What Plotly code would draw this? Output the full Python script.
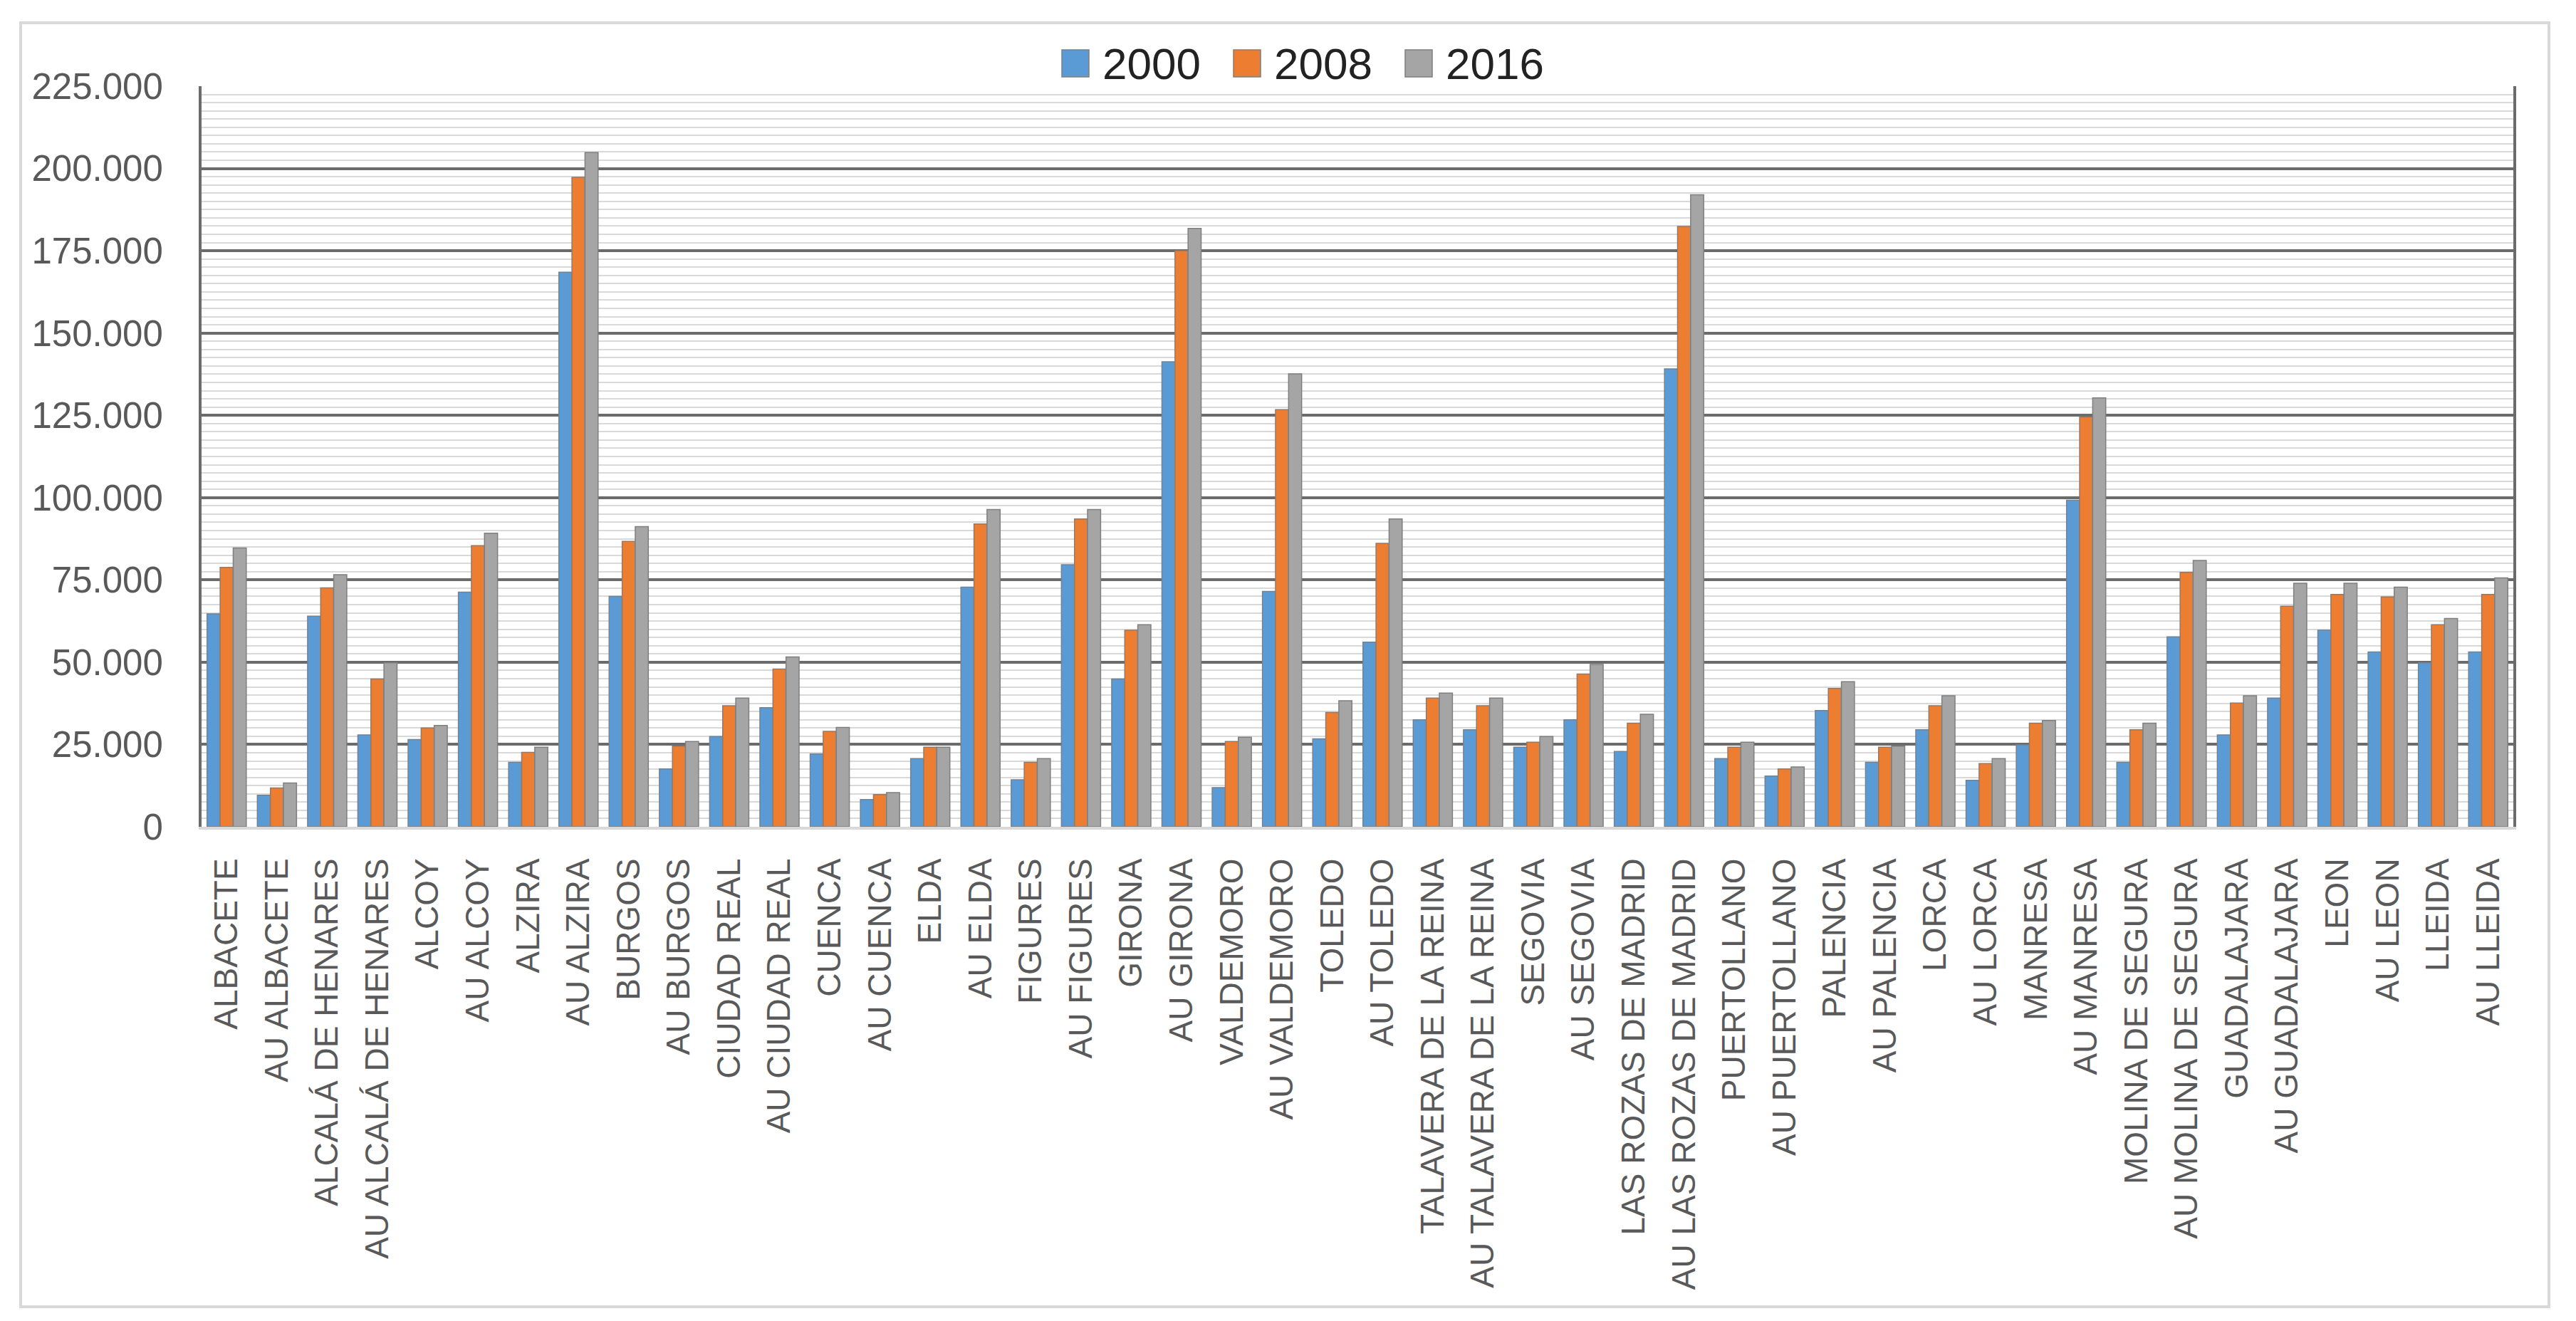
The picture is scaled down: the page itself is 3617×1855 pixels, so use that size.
import plotly.graph_objects as go

# city / urban-area (AU) population, 2000 - 2008 - 2016
cities = [
	"ALBACETE", "AU ALBACETE", "ALCALÁ DE HENARES", "AU ALCALÁ DE HENARES",
	"ALCOY", "AU ALCOY", "ALZIRA", "AU ALZIRA", "BURGOS", "AU BURGOS",
	"CIUDAD REAL", "AU CIUDAD REAL", "CUENCA", "AU CUENCA", "ELDA", "AU ELDA",
	"FIGURES", "AU FIGURES", "GIRONA", "AU GIRONA", "VALDEMORO", "AU VALDEMORO",
	"TOLEDO", "AU TOLEDO", "TALAVERA DE LA REINA", "AU TALAVERA DE LA REINA",
	"SEGOVIA", "AU SEGOVIA", "LAS ROZAS DE MADRID", "AU LAS ROZAS DE MADRID",
	"PUERTOLLANO", "AU PUERTOLLANO", "PALENCIA", "AU PALENCIA", "LORCA", "AU LORCA",
	"MANRESA", "AU MANRESA", "MOLINA DE SEGURA", "AU MOLINA DE SEGURA",
	"GUADALAJARA", "AU GUADALAJARA", "LEON", "AU LEON", "LLEIDA", "AU LLEIDA",
]

pop_2000 = [64700, 9600, 64000, 27900, 26500, 71300, 19600, 168500, 70000, 17600,
	27400, 36200, 22100, 8300, 20700, 72800, 14300, 79600, 44900, 141300,
	11900, 71500, 26700, 56100, 32500, 29500, 24200, 32500, 22900, 139100,
	20700, 15400, 35300, 19600, 29500, 14100, 24900, 99200, 19600, 57700,
	27900, 39100, 59700, 53100, 49800, 53100]

pop_2008 = [78800, 11800, 72600, 44900, 30000, 85400, 22600, 197300, 86700, 24500,
	36800, 47900, 29000, 9800, 24200, 92000, 19600, 93500, 59700, 175000,
	25900, 126700, 34700, 86100, 39100, 36800, 25700, 46400, 31500, 182400,
	24200, 17600, 42000, 24200, 36800, 19200, 31500, 124500, 29500, 77300,
	37600, 67000, 70600, 69800, 61400, 70600]

pop_2016 = [84700, 13300, 76600, 49800, 30800, 89200, 24200, 204800, 91200, 25900,
	39100, 51600, 30200, 10400, 24200, 96400, 20700, 96400, 61400, 181800,
	27200, 137600, 38300, 93500, 40600, 39100, 27400, 49300, 34200, 192000,
	25700, 18200, 44100, 24500, 39800, 20700, 32300, 130300, 31500, 80900,
	39800, 74000, 74000, 72800, 63300, 75600]

years = ["2000", "2008", "2016"]
series = [pop_2000, pop_2008, pop_2016]
colors = ["#5B9BD5", "#ED7D31", "#A5A5A5"]

W, H = 3617, 1855
ml, mr, mt, mb = 275, 96, 113, 702
pw = W - ml - mr
ph = H - mt - mb

def px_x(x):
	return (x - ml) / pw

def px_y(y):
	return (H - mb - y) / ph

fig = go.Figure()
for name, vals, col in zip(years, series, colors):
	fig.add_trace(go.Bar(
		x=cities, y=vals, name=name, showlegend=False,
		marker=dict(color=col, line=dict(color="#7F7F7F", width=1.5)),
	))

# light outer frame round the whole chart
fig.add_shape(type="rect", xref="paper", yref="paper",
	x0=px_x(21), x1=px_x(3571), y0=px_y(1827), y1=px_y(24),
	line=dict(color="#D9D9D9", width=4), layer="below")

# legend drawn as big swatches + text, like the Excel one
legend_left = 1483
legend_step = 241
for k, (name, col) in enumerate(zip(years, colors)):
	x0 = legend_left + k * legend_step
	fig.add_shape(type="rect", xref="paper", yref="paper",
		x0=px_x(x0), x1=px_x(x0 + 38), y0=px_y(100), y1=px_y(62),
		fillcolor=col, line=dict(color="#7F7F7F", width=1.5))
	fig.add_annotation(xref="paper", yref="paper",
		x=px_x(x0 + 55), y=px_y(81), xanchor="left", yanchor="middle",
		text=name, showarrow=False,
		font=dict(size=62, color="#222222"))

fig.update_layout(
	width=W, height=H,
	margin=dict(l=ml, r=mr, t=mt, b=mb),
	paper_bgcolor="white", plot_bgcolor="white",
	separators=",.",
	barmode="group", bargap=0.22, bargroupgap=0,
	font=dict(family="Liberation Sans, Arial, sans-serif", color="#595959"),
)

fig.update_yaxes(
	range=[0, 225000], dtick=25000, tickformat=",d",
	tickfont=dict(size=51, color="#595959"), ticklabelstandoff=40,
	showgrid=True, gridcolor="#6B6B6B", gridwidth=4,
	minor=dict(dtick=2500, showgrid=True, gridcolor="#D9D9D9", gridwidth=2),
	showline=True, linecolor="#6B6B6B", linewidth=4, mirror=True,
	zeroline=False,
)
fig.update_xaxes(
	tickangle=-90, tickfont=dict(size=46, color="#595959"),
	showline=True, linecolor="#D9D9D9", linewidth=4,
	ticks="", ticklabelstandoff=22,
)

fig.write_html("out.html")
